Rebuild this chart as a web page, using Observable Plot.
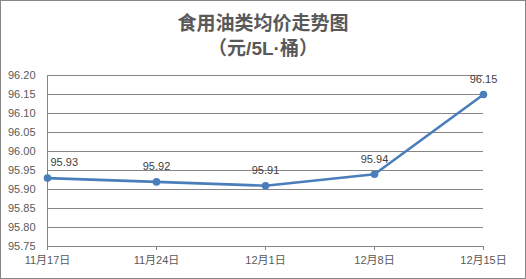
<!DOCTYPE html>
<html>
<head>
<meta charset="utf-8">
<script src="https://cdn.jsdelivr.net/npm/d3@7"></script>
<script src="https://cdn.jsdelivr.net/npm/@observablehq/plot@0.6"></script>
<style>
  html, body { margin: 0; padding: 0; background: #fff; }
  #wrap { position: relative; width: 526px; height: 279px; overflow: hidden; background: #fff; }
  #frame { position: absolute; left: 0; top: 0; right: 0; bottom: 0; border: 1px solid #868686; box-sizing: border-box; pointer-events: none; }
  #title { position: absolute; left: 0; top: 0; width: 526px; text-align: center; color: #595959;
    font-family: "Liberation Sans", "Noto Sans CJK SC", sans-serif; font-weight: bold; font-size: 19px; line-height: 25px; padding-top: 11px; }
  #chart { position: absolute; left: 0; top: 62px; }
</style>
</head>
<body>
<div id="wrap">
  <div id="title">食用油类均价走势图<br>（元/5L·桶）</div>
  <div id="chart"></div>
  <div id="frame"></div>
</div>
<script>
const dates = ["11月17日", "11月24日", "12月1日", "12月8日", "12月15日"];
const prices = [95.93, 95.92, 95.91, 95.94, 96.15];
const yTicks = [95.75, 95.80, 95.85, 95.90, 95.95, 96.00, 96.05, 96.10, 96.15, 96.20];

const data = dates.map((d, i) => ({date: d, price: prices[i], first: i === 0}));
const font = '"Liberation Sans", "Noto Sans CJK SC", sans-serif';

const plot = Plot.plot({
  width: 526,
  height: 217,
  marginLeft: 47,
  marginRight: 43,
  marginTop: 13,
  marginBottom: 33,
  style: {fontFamily: font, fontSize: "11px", color: "#595959", background: "transparent"},
  x: {type: "point", domain: dates, padding: 0, label: null},
  y: {domain: [95.75, 96.20], label: null},
  marks: [
    Plot.gridY(yTicks, {stroke: "#868686", strokeOpacity: 1}),
    Plot.ruleX([dates[0]], {stroke: "#868686"}),
    Plot.axisY(yTicks, {tickSize: 0, tickPadding: 12, tickFormat: d3.format(".2f"), fill: "#595959", fontSize: 11}),
    Plot.axisX({tickSize: 4, tickPadding: 6, stroke: "#868686", fill: "#595959", fontSize: 11}),
    Plot.ruleY([95.75], {stroke: "#868686"}),
    Plot.line(data, {x: "date", y: "price", stroke: "#4a7ebb", strokeWidth: 2.6}),
    Plot.dot(data, {x: "date", y: "price", fill: "#4a7ebb", r: 3.8}),
    Plot.text(data.filter(d => d.first), {x: "date", y: "price", text: d => d3.format(".2f")(d.price), dy: -16, dx: 3, textAnchor: "start", fill: "#404040", fontSize: 11}),
    Plot.text(data.filter(d => !d.first), {x: "date", y: "price", text: d => d3.format(".2f")(d.price), dy: -15, fill: "#404040", fontSize: 11})
  ]
});
document.getElementById("chart").appendChild(plot);
</script>
</body>
</html>
